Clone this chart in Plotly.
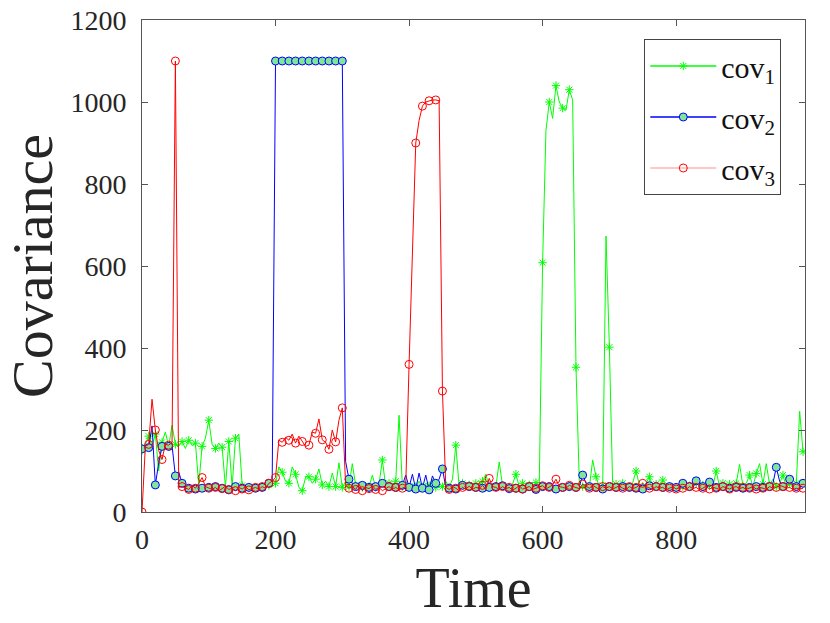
import plotly.graph_objects as go

# time grid (every 5 samples) and series values
time = list(range(0, 995, 5))

cov1 = [
    150, 165, 185, 160, 190, 100, 170, 195, 160, 212, 165, 160, 172, 155, 175, 162, 168, 65, 160, 180,
    224, 165, 155, 168, 158, 60, 172, 62, 180, 190, 65, 60, 58, 63, 60, 65, 62, 58, 65, 62,
    70, 110, 97, 75, 70, 110, 92, 60, 52, 85, 86, 70, 80, 105, 66, 75, 62, 95, 62, 120,
    60, 75, 62, 118, 65, 70, 60, 72, 62, 90, 60, 68, 127, 62, 70, 60, 75, 236, 62, 75,
    60, 68, 62, 75, 60, 70, 64, 80, 60, 70, 62, 75, 60, 80, 163, 62, 70, 60, 66, 62,
    70, 62, 75, 92, 60, 70, 62, 122, 64, 70, 60, 68, 92, 62, 70, 60, 66, 62, 72, 65,
    608, 930, 1000, 960, 1040, 1000, 985, 980, 1030, 1005, 353, 70, 62, 68, 60, 127, 86, 62, 65, 673,
    402, 62, 68, 60, 70, 64, 62, 72, 100, 65, 62, 70, 86, 62, 68, 60, 78, 64, 62, 66,
    60, 70, 62, 68, 64, 60, 70, 62, 66, 60, 65, 62, 100, 62, 70, 60, 68, 62, 70, 116,
    64, 70, 90, 62, 94, 118, 68, 118, 66, 80, 62, 70, 90, 62, 68, 64, 70, 246, 147,
]

cov2 = [
    154, 160, 157, 210, 66, 120, 160, 158, 160, 162, 88, 98, 70, 62, 58, 60, 56, 62, 58, 55,
    60, 57, 62, 55, 58, 60, 54, 57, 62, 55, 58, 56, 60, 55, 58, 62, 60, 65, 70, 73,
    1100, 1100, 1100, 1100, 1100, 1100, 1100, 1100, 1100, 1100, 1100, 1100, 1100, 1100, 1100, 1100, 1100, 1100, 1100, 1100,
    1100, 123, 80, 70, 62, 58, 65, 55, 60, 58, 62, 56, 70, 58, 62, 55, 60, 58, 65, 90,
    60, 92, 56, 95, 58, 90, 54, 88, 70, 80, 105, 60, 58, 62, 56, 60, 65, 58, 62, 56,
    60, 62, 58, 65, 60, 56, 62, 58, 64, 60, 57, 62, 58, 64, 56, 60, 62, 58, 55, 60,
    62, 58, 62, 60, 56, 64, 60, 58, 62, 65, 60, 62, 90, 70, 62, 58, 60, 64, 56, 60,
    62, 58, 60, 56, 62, 58, 60, 64, 58, 62, 56, 60, 64, 58, 62, 57, 60, 58, 62, 56,
    60, 64, 70, 65, 62, 60, 76, 68, 62, 58, 73, 65, 60, 58, 62, 60, 58, 64, 60, 62,
    58, 62, 60, 56, 62, 58, 60, 57, 62, 70, 109, 75, 62, 68, 80, 65, 62, 66, 70,
]

cov3 = [
    0, 160, 165, 275, 200, 150, 128, 165, 163, 170, 1100, 60, 62, 58, 55, 65, 58, 70, 84, 62,
    58, 55, 60, 52, 57, 63, 55, 58, 52, 60, 56, 62, 54, 58, 60, 55, 62, 58, 70, 75,
    84, 175, 170, 182, 175, 190, 168, 185, 172, 160, 163, 195, 192, 227, 176, 170, 153, 200, 171, 224,
    254, 65, 58, 62, 55, 68, 52, 60, 57, 64, 55, 60, 52, 58, 62, 55, 60, 54, 58, 62,
    360, 650, 900, 955, 990, 1000, 1003, 1005, 1005, 1003, 295, 60, 55, 62, 58, 52, 60, 56, 63, 55,
    60, 58, 65, 55, 82, 62, 60, 55, 62, 57, 60, 53, 58, 64, 56, 60, 62, 55, 58, 60,
    64, 56, 60, 66, 80, 62, 60, 58, 65, 62, 60, 57, 68, 62, 58, 65, 60, 55, 62, 58,
    62, 56, 60, 64, 58, 55, 62, 57, 60, 65, 70, 62, 58, 55, 62, 58, 60, 54, 58, 62,
    56, 60, 58, 55, 62, 57, 60, 54, 58, 63, 56, 60, 58, 55, 62, 58, 56, 60, 62, 57,
    60, 55, 58, 62, 56, 60, 58, 55, 62, 58, 60, 65, 62, 58, 60, 55, 58, 56, 58,
]

names = ["cov<sub>1</sub>", "cov<sub>2</sub>", "cov<sub>3</sub>"]
x_ticks = [0, 200, 400, 600, 800]
y_ticks = [0, 200, 400, 600, 800, 1000, 1200]

FONT = "Liberation Serif, Times New Roman, serif"

styles = [
    dict(line=dict(color="#00FF00", width=1),
         marker=dict(symbol="asterisk-open", size=7, color="#00FF00",
                     line=dict(color="#00FF00", width=1))),
    dict(line=dict(color="#0000FF", width=1),
         marker=dict(symbol="circle", size=8, color="#80E699",
                     line=dict(color="#0000FF", width=1))),
    dict(line=dict(color="#FF0000", width=1),
         marker=dict(symbol="circle-open", size=8, color="#FF0000",
                     line=dict(color="#FF0000", width=1))),
]
legend_line_colors = ["#00FF00", "#0000FF", "#FFB4B4"]

fig = go.Figure()
for series, st in zip([cov1, cov2, cov3], styles):
    fig.add_trace(go.Scatter(x=time, y=series, mode="lines", line=st["line"],
                             showlegend=False, hoverinfo="skip"))
    fig.add_trace(go.Scatter(x=time[::2], y=series[::2], mode="markers",
                             marker=st["marker"], showlegend=False, hoverinfo="skip"))

for i, (nm, st, lc) in enumerate(zip(names, styles, legend_line_colors)):
    fig.add_trace(go.Scatter(x=[None], y=[None], mode="lines+markers", name=nm,
                             line=dict(color=lc, width=1.5), marker=st["marker"],
                             legendgroup=f"g{i}"))

axis_common = dict(
    showline=True, linecolor="#555555", linewidth=1, mirror="ticks",
    ticks="inside", ticklen=6, tickcolor="#555555", tickwidth=1,
    showgrid=False, zeroline=False, automargin=False,
    tickfont=dict(family=FONT, size=28, color="#262626"),
)

fig.update_layout(
    width=830, height=623,
    margin=dict(l=142, r=25, t=20, b=111),
    paper_bgcolor="white", plot_bgcolor="white",
    font=dict(family=FONT, color="#262626"),
    xaxis=dict(range=[0, 993], tickvals=x_ticks, ticklabelstandoff=2,
               title=dict(text="Time", font=dict(family=FONT, size=56, color="#262626"), standoff=14),
               **axis_common),
    yaxis=dict(range=[0, 1200], tickvals=y_ticks, ticklabelstandoff=9,
               title=dict(text="Covariance", font=dict(family=FONT, size=58, color="#262626"), standoff=4),
               **axis_common),
    legend=dict(x=0.7576, y=0.9614, xanchor="left", yanchor="top",
                bgcolor="white", bordercolor="#444444", borderwidth=1,
                font=dict(family=FONT, size=30, color="#111111"),
                tracegroupgap=9, itemwidth=66),
)

fig.write_html("out.html", config={"displayModeBar": False},
               post_script="document.body.style.margin='0';")
